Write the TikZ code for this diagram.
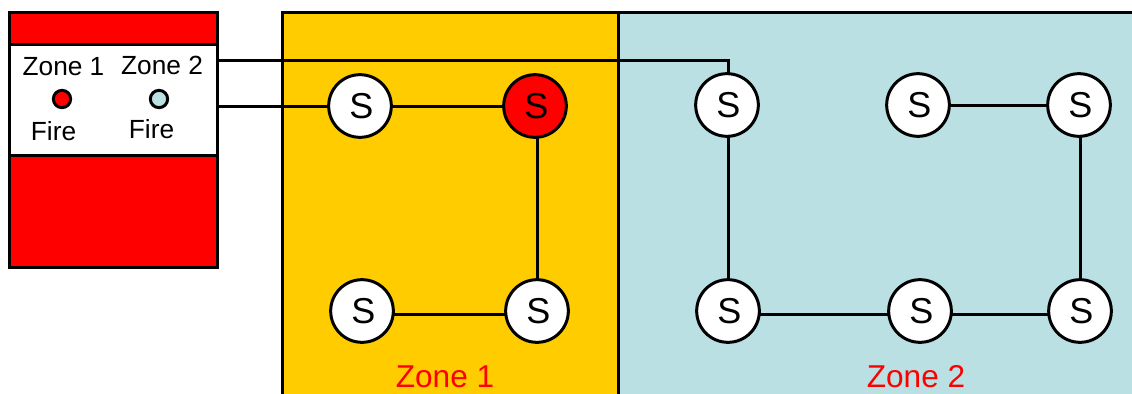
\documentclass[tikz,border=0pt]{standalone}
\usepackage{fontspec}
\setmainfont{Liberation Sans}
\definecolor{zoneyellow}{RGB}{255,204,0}
\definecolor{zoneblue}{RGB}{186,224,227}
\tikzset{
    wire/.style={draw=black, line width=2.25pt},
    sensor/.style={circle, wire, outer sep=0pt, minimum size=47pt, inner sep=0pt, font=\fontsize{27}{27}\selectfont},
    lamp/.style={circle, wire, minimum size=13pt, inner sep=0pt},
    panelbox/.style={rectangle, wire, outer sep=0pt, inner sep=0pt, minimum width=156pt},
    zonebox/.style={rectangle, wire, outer sep=0pt, inner sep=0pt, minimum height=320pt},
    paneltext/.style={font=\fontsize{19.7}{19.7}\selectfont},
    zonetext/.style={text=red, font=\fontsize{23.7}{23.7}\selectfont}
}
\newcommand{\sensormark}{\raisebox{-1.5pt}{\kern2pt S}}
\begin{document}
\begin{tikzpicture}[x=0.75pt, y=-0.75pt]
    \useasboundingbox (0,0) rectangle (1132,393);
    \clip (0,0) rectangle (1132,393);
    % zones
    \node[zonebox, fill=zoneyellow, minimum width=252pt, anchor=north west] (zoneA) at (282,12) {};
    \node[zonebox, fill=zoneblue, minimum width=400pt, anchor=north west] (zoneB) at (618,12) {};
    \node[zonetext] (labelA) at (445,376.5) {Zone 1};
    \node[zonetext] (labelB) at (916,376.5) {Zone 2};
    % control panel
    \node[panelbox, fill=red, minimum height=191.25pt, anchor=north west] (panel) at (9,12) {};
    \node[panelbox, fill=white, minimum height=83.25pt, anchor=north west] (band) at (9,44) {};
    \node[paneltext] (nameA) at (63.5,67) {Zone 1};
    \node[paneltext] (nameB) at (162,65) {Zone 2};
    \node[paneltext] (fireA) at (53.5,131) {Fire};
    \node[paneltext] (fireB) at (151.5,129) {Fire};
    \node[lamp, fill=red] (lampA) at (62,99) {};
    \node[lamp, fill=zoneblue] (lampB) at (159,99) {};
    % sensors
    \foreach \name/\x/\y/\col in {
        sA/360/106/white, sB/535/106/red, sC/537/311/white, sD/362/311/white,
        sE/727/105/white, sF/728/311/white, sG/920/311/white, sH/1080/311/white,
        sI/1079/105/white, sJ/918/105/white} {
        \node[sensor, fill=\col] (\name) at (\x,\y) {\sensormark};
    }
    % wiring
    \coordinate (tapA) at (band.east |- sA);
    \coordinate (tapB) at (217,60);
    \draw[wire] (tapA) -- (sA);
    \draw[wire] (sA) -- (sB);
    \draw[wire] (sC) -- (sC |- sB.south);
    \draw[wire] (sD.-7) -- (sC.-173);
    \draw[wire] (tapB) -| (sE.north -| sF);
    \draw[wire] (sF) -- (sF |- sE.south);
    \draw[wire] (sF.-7) -- (sG.-173);
    \draw[wire] (sG.-7) -- (sH.-173);
    \draw[wire] (sH) -- (sH |- sI.south);
    \draw[wire] (sI) -- (sJ);
\end{tikzpicture}
\end{document}
